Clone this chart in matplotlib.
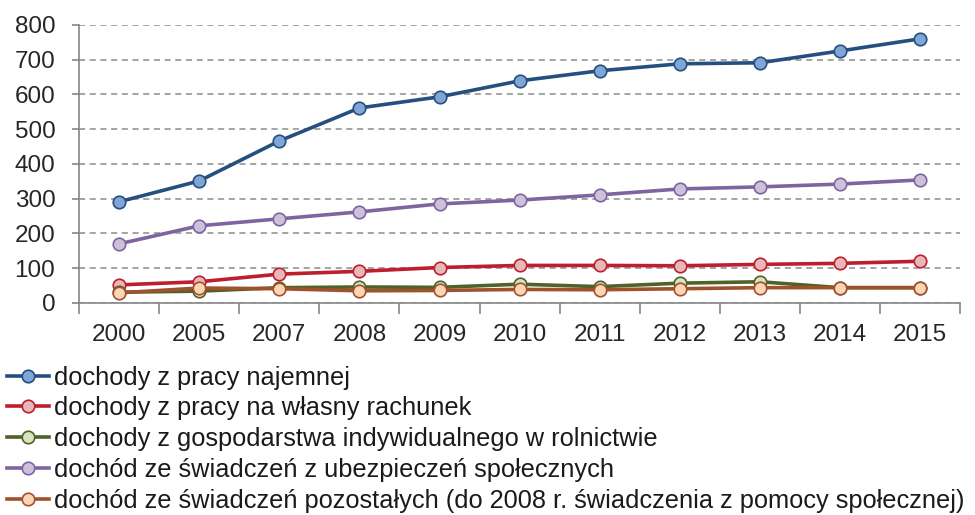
import numpy as np
import matplotlib.pyplot as plt

plt.rcParams['font.family'] = ['Liberation Sans', 'DejaVu Sans']

lata = ["2000", "2005", "2007", "2008", "2009", "2010", "2011", "2012", "2013", "2014", "2015"]
najemna = [291, 351, 466, 561, 593, 639, 668, 688, 691, 725, 760]
wlasny = [52, 61, 83, 91, 102, 108, 108, 107, 111, 114, 120]
rolnictwo = [31, 34, 44, 46, 45, 54, 47, 57, 61, 44, 44]
ubezpieczenia = [170, 222, 242, 262, 285, 296, 311, 328, 334, 342, 354]
pozostale = [29, 43, 41, 35, 36, 39, 38, 41, 44, 44, 44]

serie = [
    ("dochody z pracy najemnej", najemna, "#254f7f", "#7fa6d6"),
    ("dochody z pracy na własny rachunek", wlasny, "#be1e2d", "#e6b9b8"),
    ("dochody z gospodarstwa indywidualnego w rolnictwie", rolnictwo, "#4f6228", "#d7e4bd"),
    ("dochód ze świadczeń z ubezpieczeń społecznych", ubezpieczenia, "#8064a2", "#ccc1da"),
    ("dochód ze świadczeń pozostałych (do 2008 r. świadczenia z pomocy społecznej)",
     pozostale, "#a0522d", "#fcd5b5"),
]

fig = plt.figure(figsize=(9.75, 5.15), dpi=100)
ax = fig.add_axes([0.081, 0.4117, 0.904, 0.54])

x = np.arange(len(lata))
for nazwa, wart, kolor, wypelnienie in serie:
    ax.plot(x, wart, color=kolor, lw=2.6, marker='o', ms=9,
            markerfacecolor=wypelnienie, markeredgecolor=kolor, markeredgewidth=1.2,
            label=nazwa)

ax.set_ylim(0, 800)
ax.set_yticks(range(0, 801, 100))
ax.set_xlim(-0.5, len(lata) - 0.5)
ax.set_xticks(x)
ax.set_xticklabels(lata)
ax.set_xticks(np.arange(-0.5, len(lata)), minor=True)
ax.tick_params(axis='x', which='major', length=0, pad=15, labelsize=17.5, labelcolor='#262626')
ax.tick_params(axis='x', which='minor', length=8, width=1.2, color='#868686', direction='out')
ax.tick_params(axis='y', length=5, width=1.2, color='#868686', labelsize=17.5,
               labelcolor='#262626', pad=12)

ax.grid(axis='y', color='#8c8c8c', linestyle=(0, (4, 3)), lw=1.1)
ax.set_axisbelow(True)
for s in ['top', 'right']:
    ax.spines[s].set_visible(False)
for s in ['left', 'bottom']:
    ax.spines[s].set_color('#868686')
    ax.spines[s].set_linewidth(1.2)

fig.legend(loc='upper left', bbox_to_anchor=(0.007, 0.29), frameon=False, fontsize=18.3,
           handlelength=1.65, handletextpad=0.2, labelspacing=0.265, borderpad=0,
           borderaxespad=0, labelcolor='#1a1a1a')

fig.savefig("out.png", dpi=100)
